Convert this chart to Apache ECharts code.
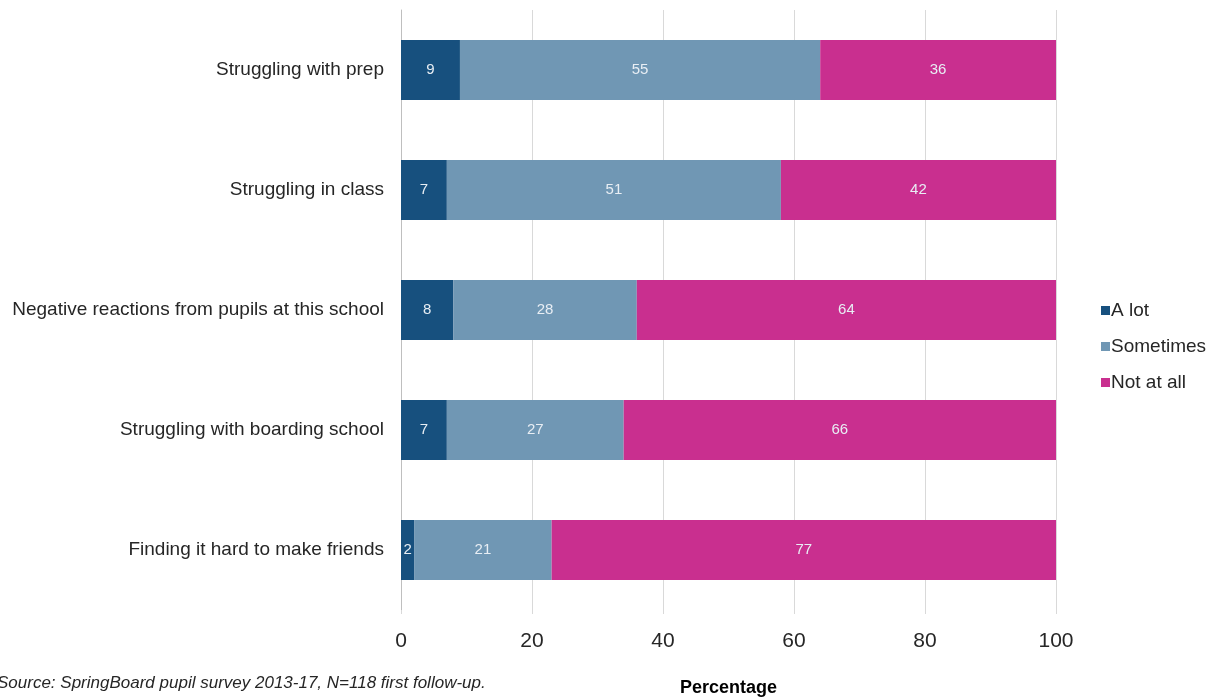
<!DOCTYPE html>
<html>
<head>
<meta charset="utf-8">
<script src="https://cdn.jsdelivr.net/npm/echarts@6/dist/echarts.min.js"></script>
<style>
html,body{margin:0;padding:0;background:#fff;}
#chart{width:1209px;height:697px;}
</style>
</head>
<body>
<div id="chart"></div>
<script>
const categories = [
  "Struggling with prep",
  "Struggling in class",
  "Negative reactions from pupils at this school",
  "Struggling with boarding school",
  "Finding it hard to make friends"
];
const aLot = [9, 7, 8, 7, 2];
const sometimes = [55, 51, 28, 27, 21];
const notAtAll = [36, 42, 64, 66, 77];
const xTicks = [0, 20, 40, 60, 80, 100];
const seriesNames = ["A lot", "Sometimes", "Not at all"];
const colors = ["#17507e", "#7097b4", "#c92f8f"];

const FONT = '"Liberation Sans", Arial, sans-serif';
const chart = echarts.init(document.getElementById('chart'));

function mk(name, data, color) {
  return {
    name: name,
    type: 'bar',
    stack: 'total',
    data: data,
    barWidth: 60,
    itemStyle: { color: color },
    label: {
      show: true,
      position: 'inside',
      color: '#e8eef4',
      fontFamily: FONT,
      fontSize: 15
    },
    emphasis: { disabled: true }
  };
}

chart.setOption({
  animation: false,
  textStyle: { fontFamily: FONT },
  grid: { left: 401, right: 153, top: 10, bottom: 87, containLabel: false, outerBoundsMode: 'none' },
  legend: {
    orient: 'vertical',
    left: 1096,
    top: 296,
    itemWidth: 9,
    itemHeight: 9,
    itemGap: 17,
    icon: 'rect',
    textStyle: { fontFamily: FONT, fontSize: 19, color: '#262626', padding: [0, 0, 0, -4] },
    data: seriesNames
  },
  xAxis: {
    type: 'value',
    min: 0,
    max: 100,
    interval: 20,
    name: 'Percentage',
    nameLocation: 'middle',
    nameGap: 69,
    nameTextStyle: { fontFamily: FONT, fontWeight: 'bold', fontSize: 18, color: '#000000' },
    axisLine: { show: false },
    axisTick: { show: true, length: 4, lineStyle: { color: '#d9d9d9' } },
    splitLine: { show: true, lineStyle: { color: '#d9d9d9', width: 1 } },
    axisLabel: {
      fontFamily: FONT,
      fontSize: 21,
      color: '#262626',
      margin: 21,
      formatter: function (v) { return xTicks.indexOf(v) >= 0 ? String(v) : ''; }
    }
  },
  yAxis: {
    type: 'category',
    inverse: true,
    data: categories,
    axisLine: { show: true, lineStyle: { color: '#bfbfbf', width: 1 } },
    axisTick: { show: false },
    axisLabel: {
      fontFamily: FONT,
      fontSize: 19,
      color: '#262626',
      margin: 17
    }
  },
  graphic: [
    {
      type: 'text',
      left: -3,
      top: 675,
      style: {
        text: 'Source: SpringBoard pupil survey 2013-17, N=118 first follow-up.',
        fontFamily: FONT,
        fontStyle: 'italic',
        fontSize: 17,
        fill: '#262626'
      }
    }
  ],
  series: [
    mk(seriesNames[0], aLot, colors[0]),
    mk(seriesNames[1], sometimes, colors[1]),
    mk(seriesNames[2], notAtAll, colors[2])
  ]
});
</script>
</body>
</html>
